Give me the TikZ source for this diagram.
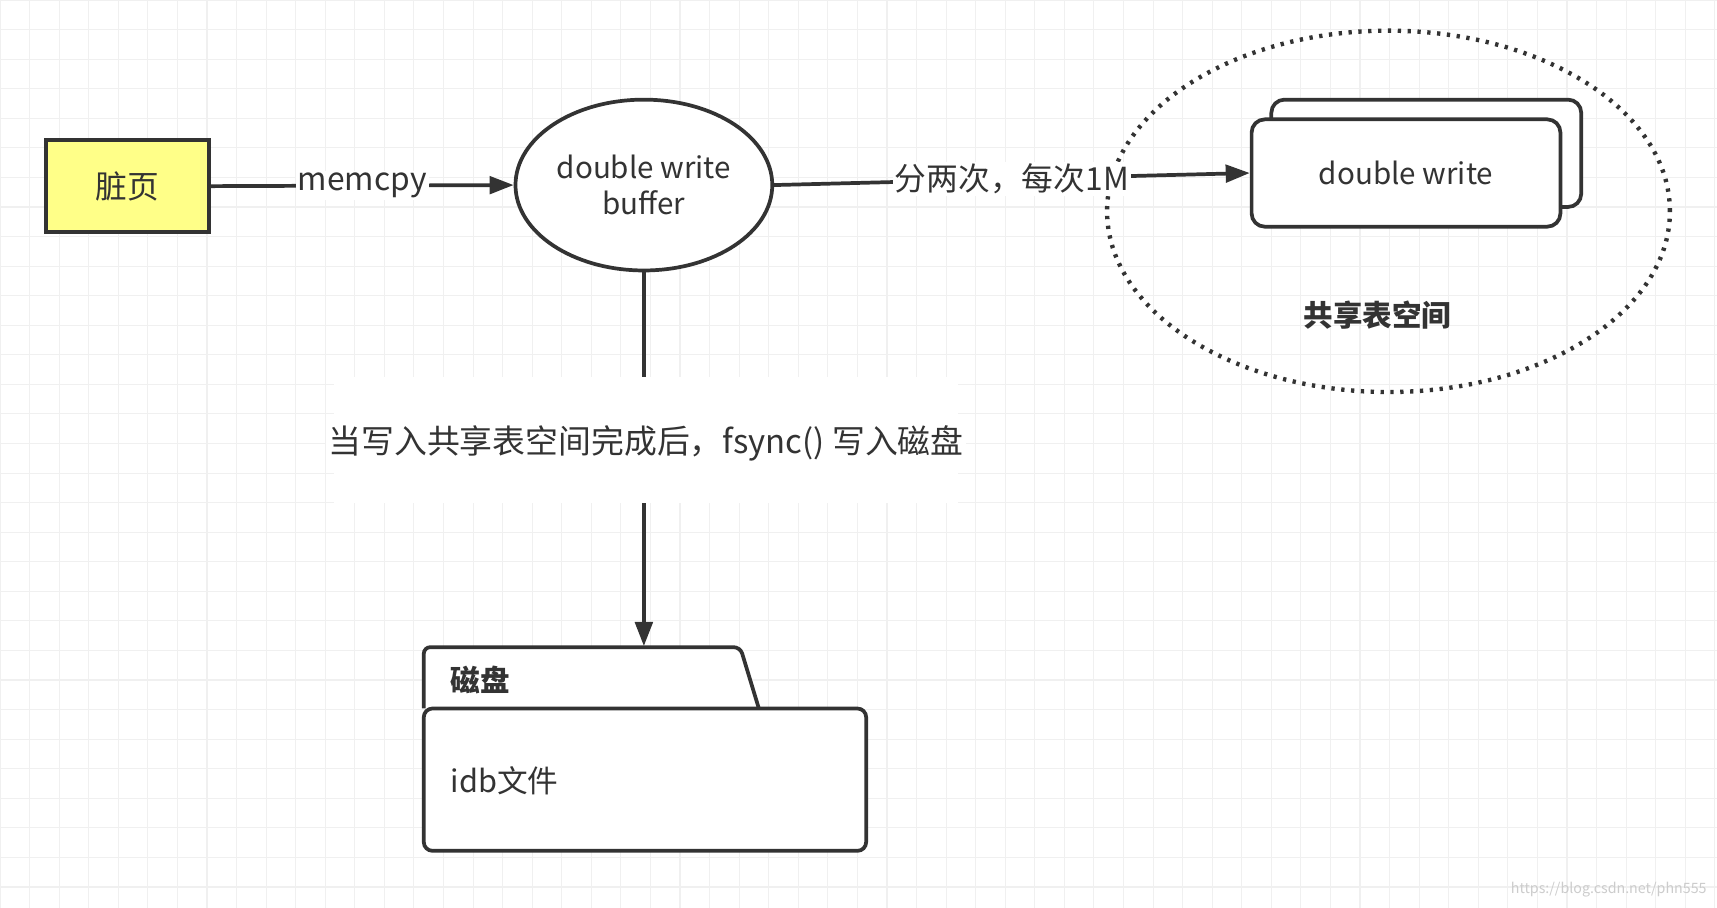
\documentclass[tikz,border=0pt]{standalone}
\usepackage{fontspec}
\setmainfont{Noto Sans CJK SC}
\usetikzlibrary{arrows.meta,shapes.geometric}
\definecolor{ink}{HTML}{333333}
\definecolor{dpy}{HTML}{FFFF88}
\tikzset{
  ln/.style={line width=3.4pt,draw=ink},
  arr/.style={ln,-{Triangle[length=22pt,width=16pt]}},
  lbl/.style={fill=white,inner sep=2pt,font=\fontsize{29}{32}\selectfont,text=ink},
}
\begin{document}
\begin{tikzpicture}[x=1pt,y=-1pt]
\useasboundingbox (0,0) rectangle (1568,829);
\fill[white] (0,0) rectangle (1568,829);
\foreach \i in {0,27,...,1568} \draw[gray!12,line width=1pt] (\i,0) -- (\i,829);
\foreach \j in {0,27,...,829} \draw[gray!12,line width=1pt] (0,\j) -- (1568,\j);
% dirty page
\node[ln,fill=dpy,minimum width=149pt,minimum height=84pt,font=\fontsize{29}{32}\selectfont,text=ink] (dp) at (116.5,170) {脏页};
% buffer ellipse
\node[ln,ellipse,fill=white,minimum width=224pt,minimum height=156pt,align=center,font=\fontsize{27}{33}\selectfont,text=ink] (buf) at (588,169) {double write\\buffer};
% stacked double write
\draw[ln,fill=white,rounded corners=12pt] (1161,91) rectangle (1444,189);
\node[ln,fill=white,rounded corners=12pt,minimum width=282pt,minimum height=98pt,font=\fontsize{27}{32}\selectfont,text=ink] (dw) at (1284,158) {double write};
% dotted ellipse
\node[ellipse,draw=ink,line width=4pt,dash pattern=on 3pt off 6pt,minimum width=514pt,minimum height=330pt] (sts) at (1268,193) {};
\node[font=\bfseries\fontsize{27}{32}\selectfont,text=ink] (stsl) at (1258,288) {共享表空间};
% folder
\draw[ln,fill=white,rounded corners=6pt] (387,647) -- (387,591) -- (676,591) -- (693,647);
\draw[ln,fill=white,rounded corners=8pt] (387,647) rectangle (791,777);
\coordinate (ftop) at (588,590);
\node[font=\bfseries\fontsize{27}{32}\selectfont,text=ink,anchor=west] (disk) at (408,621) {磁盘};
\node[font=\fontsize{28}{32}\selectfont,text=ink,anchor=west] (idb) at (408,713) {idb文件};
% connectors
\draw[arr] (dp.east) -- node[lbl]{memcpy} (buf.west);
\draw[arr] (buf.east) -- node[lbl,pos=0.5]{分两次，每次1M} (dw.west);
\draw[arr] (buf.south) -- (ftop);
\node[fill=white,minimum width=570pt,minimum height=115pt] (bg) at (590,402) {};
\node[lbl,font=\fontsize{30}{32}\selectfont] (fl) at (590,405) {当写入共享表空间完成后，fsync() 写入磁盘};
\node[text=gray!40,font=\fontsize{13}{15}\selectfont,anchor=east] (wm) at (1562,812) {https://blog.csdn.net/phn555};
\end{tikzpicture}
\end{document}
